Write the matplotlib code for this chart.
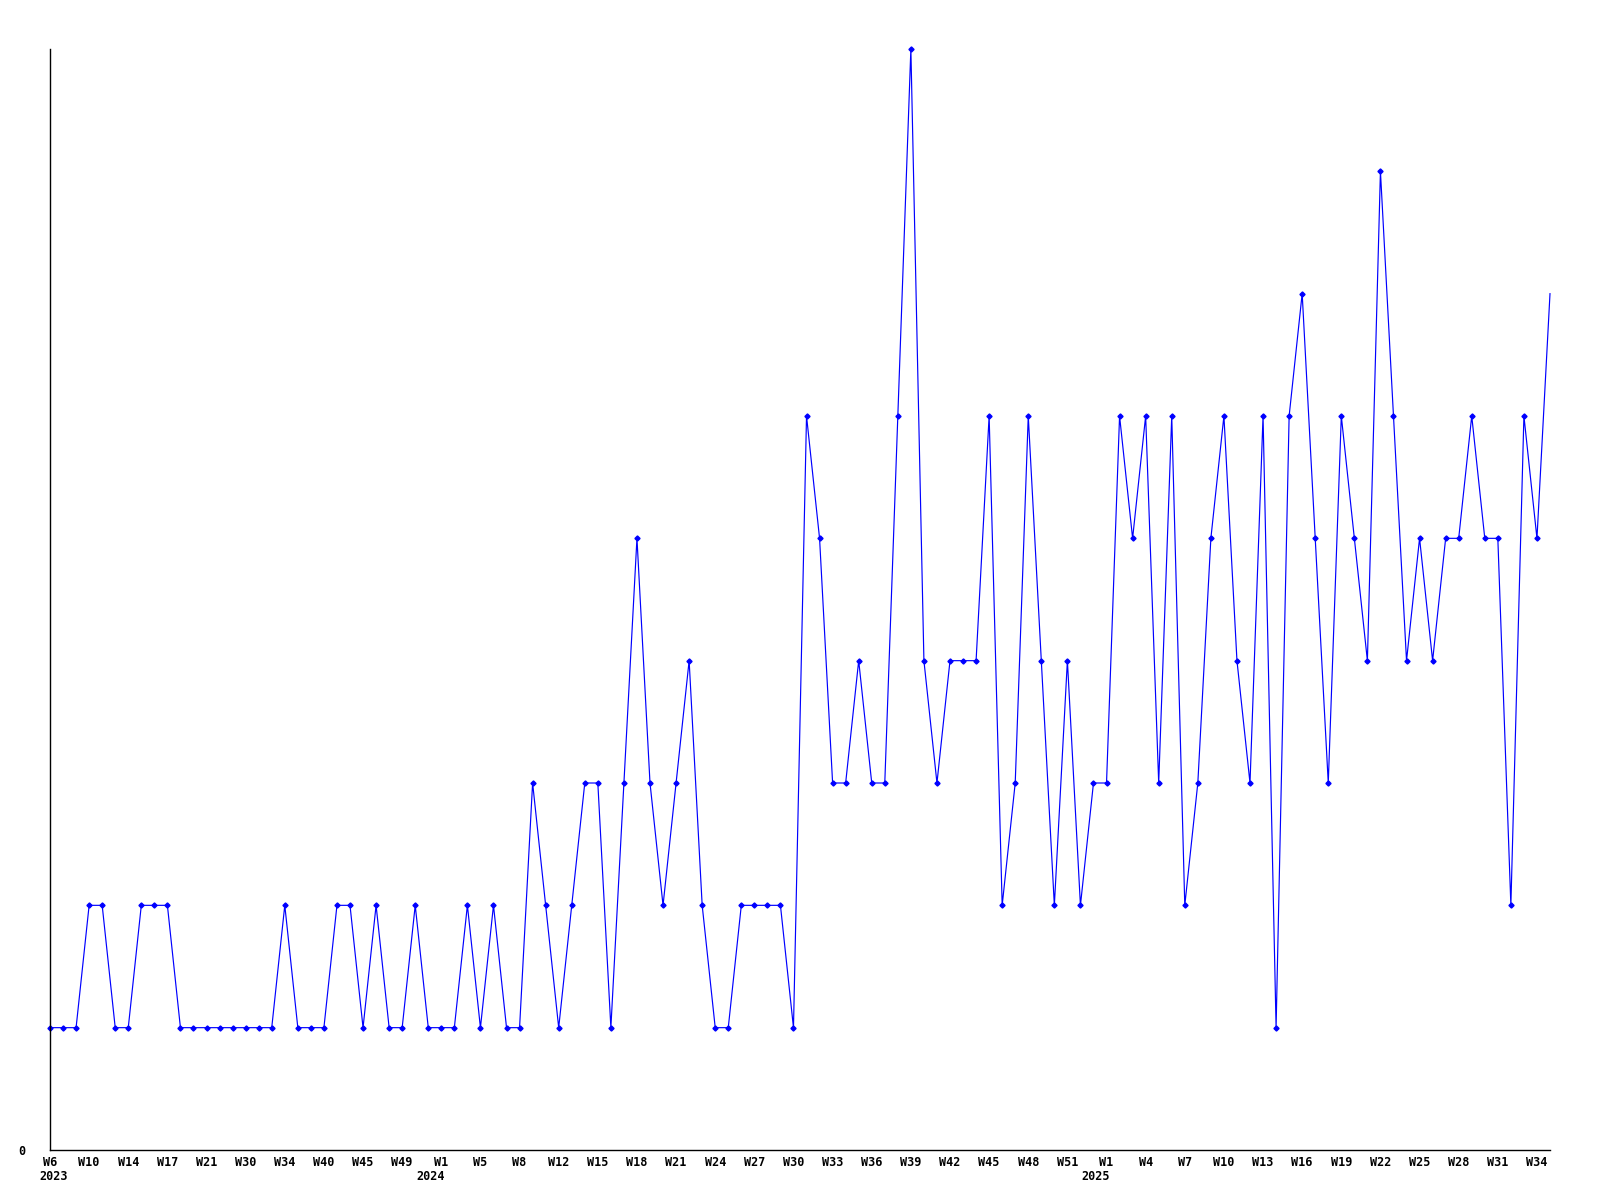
import matplotlib
matplotlib.use("Agg")
import matplotlib.pyplot as plt
import numpy as np

# weekly counts, one point per recorded week
values = [
    1, 1, 1, 2, 2, 1, 1, 2, 2, 2,
    1, 1, 1, 1, 1, 1, 1, 1, 2, 1,
    1, 1, 2, 2, 1, 2, 1, 1, 2, 1,
    1, 1, 2, 1, 2, 1, 1, 3, 2, 1,
    2, 3, 3, 1, 3, 5, 3, 2, 3, 4,
    2, 1, 1, 2, 2, 2, 2, 1, 6, 5,
    3, 3, 4, 3, 3, 6, 9, 4, 3, 4,
    4, 4, 6, 2, 3, 6, 4, 2, 4, 2,
    3, 3, 6, 5, 6, 3, 6, 2, 3, 5,
    6, 4, 3, 6, 1, 6, 7, 5, 3, 6,
    5, 4, 8, 6, 4, 5, 4, 5, 5, 6,
    5, 5, 2, 6, 5, 7,
]

# labels shown every third point
tick_labels = [
    "W6", "W10", "W14", "W17", "W21", "W30", "W34", "W40", "W45", "W49",
    "W1", "W5", "W8", "W12", "W15", "W18", "W21", "W24", "W27", "W30",
    "W33", "W36", "W39", "W42", "W45", "W48", "W51", "W1", "W4", "W7",
    "W10", "W13", "W16", "W19", "W22", "W25", "W28", "W31", "W34",
]
years = ["2023", "2024", "2025"]
year_idx = [0.25, 29.2, 80.15]

x = np.arange(len(values))
FONT = dict(family="DejaVu Sans Mono", fontweight="bold", fontsize=8.5)

fig = plt.figure(figsize=(16, 12), dpi=100)
ax = fig.add_axes([50 / 1600, 50 / 1200, 1500 / 1600, 1101 / 1200])

ax.plot(x, values, color="#0000ff", lw=0.85, marker="D", ms=2.6,
        markevery=list(range(len(values) - 1)), clip_on=False)

ax.set_xlim(0, len(values) - 1)
ax.set_ylim(0, max(values))

ax.set_xticks(x[::3])
ax.set_xticklabels(tick_labels, **FONT)
ax.set_yticks([0])
ax.set_yticklabels(["0"], **FONT)
ax.tick_params(axis="x", length=0, pad=4)
ax.tick_params(axis="y", length=0, pad=18)

for yr, xi in zip(years, year_idx):
    ax.annotate(yr, xy=(xi, 0), xycoords=("data", "axes fraction"),
                xytext=(0, -19), textcoords="offset points",
                ha="center", va="center", **FONT)

ax.spines["top"].set_visible(False)
ax.spines["right"].set_visible(False)
for s in ("left", "bottom"):
    ax.spines[s].set_linewidth(1)
    ax.spines[s].set_color("black")

fig.savefig("out.png", dpi=100)
